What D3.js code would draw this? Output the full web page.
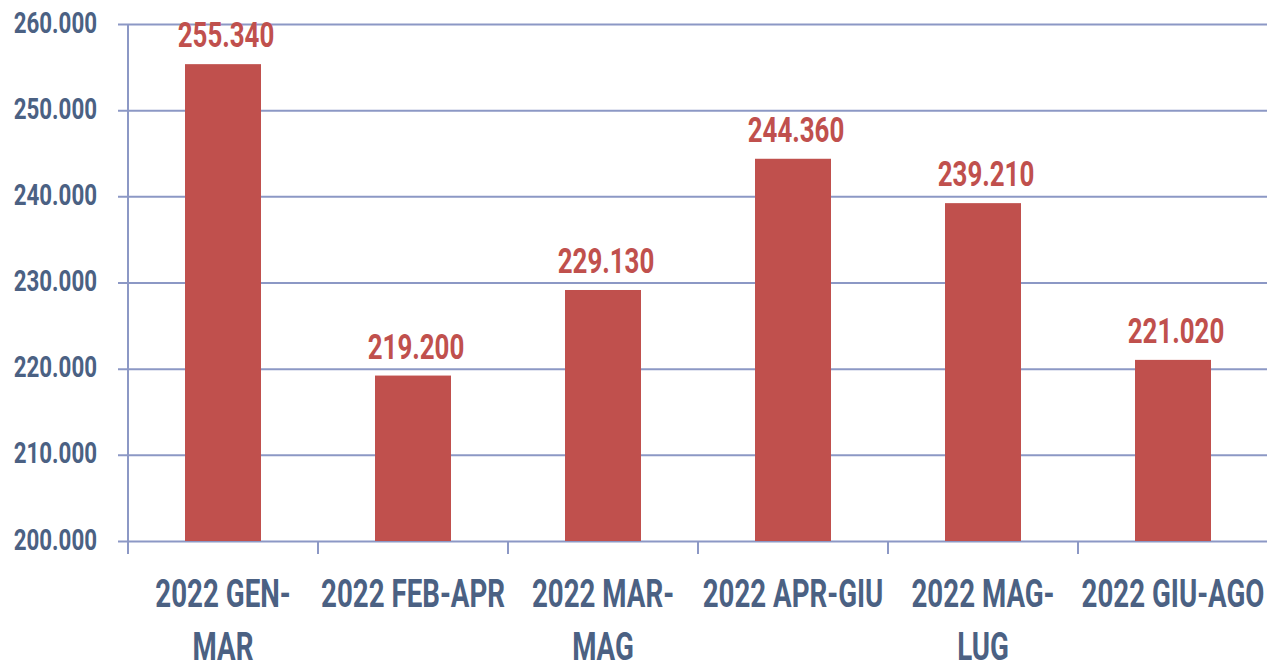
<!DOCTYPE html>
<html>
<head>
<meta charset="utf-8">
<script src="https://cdn.jsdelivr.net/npm/d3@7"></script>
<style>
  body { margin: 0; background: #fff; }
  svg { display: block; }
  text { font-family: Roboto, "Noto Sans", sans-serif; font-weight: bold; }
</style>
</head>
<body>
<div class="chart"></div>
<script>
// data
const categories = ["2022 GEN-MAR", "2022 FEB-APR", "2022 MAR-MAG", "2022 APR-GIU", "2022 MAG-LUG", "2022 GIU-AGO"];
const tickLabels = [["2022 GEN-", "MAR"], ["2022 FEB-APR"], ["2022 MAR-", "MAG"], ["2022 APR-GIU"], ["2022 MAG-", "LUG"], ["2022 GIU-AGO"]];
const values = [255340, 219200, 229130, 244360, 239210, 221020];
const yTicks = [200000, 210000, 220000, 230000, 240000, 250000, 260000];

const width = 1267;
const height = 669;
const margin = {top: 24, right: -1, bottom: 128, left: 128};

// condensed look: squeeze the glyphs horizontally
const sx = 0.74;
const sxCat = 0.71;

const it = d3.formatLocale({decimal: ",", thousands: ".", grouping: [3]});
const fmt = it.format(",.0f");

const gridColor = "#8c98c5";
const textColor = "#4b6183";
const barColor = "#c0504d";

const svg = d3.select('.chart').append('svg')
    .attr('width', width)
    .attr('height', height);

const x = d3.scaleBand()
    .domain(categories)
    .range([margin.left, width - margin.right])
    .paddingInner(0.6)
    .paddingOuter(0.3);

const y = d3.scaleLinear()
    .domain([200000, 260000])
    .range([height - margin.bottom, margin.top]);

// gridlines + y labels
const yAxis = svg.append('g')
    .attr('transform', `translate(${margin.left},0)`)
    .call(d3.axisLeft(y).tickValues(yTicks).tickFormat(fmt)
        .tickSize(-(width - margin.left)).tickPadding(0));
yAxis.select('.domain').remove();
yAxis.selectAll('.tick line')
    .attr('x1', -10)
    .attr('stroke', gridColor)
    .attr('stroke-width', 2);
yAxis.selectAll('.tick text')
    .attr('fill', textColor)
    .attr('font-size', 29)
    .attr('font-family', null)
    .attr('x', 0)
    .attr('dy', '0.28em')
    .attr('transform', `translate(-31,0) scale(0.77,1)`);

// y axis line
svg.append('line')
    .attr('x1', margin.left).attr('x2', margin.left)
    .attr('y1', y(260000)).attr('y2', y(200000) + 13)
    .attr('stroke', gridColor)
    .attr('stroke-width', 2);

// band boundary ticks
const step = x.step();
svg.append('g').selectAll('line')
    .data(categories)
    .enter()
    .append('line')
    .attr('x1', d => x(d) - x.paddingOuter() * step + step)
    .attr('x2', d => x(d) - x.paddingOuter() * step + step)
    .attr('y1', y(200000))
    .attr('y2', y(200000) + 13)
    .attr('stroke', gridColor)
    .attr('stroke-width', 2);

// bars
svg.append('g').selectAll('rect')
    .data(values)
    .enter()
    .append('rect')
    .attr('x', (d, i) => x(categories[i]))
    .attr('width', x.bandwidth())
    .attr('y', d => y(d))
    .attr('height', d => y(200000) - y(d))
    .attr('fill', barColor);

// value labels
svg.append('g').selectAll('text')
    .data(values)
    .enter()
    .append('text')
    .attr('transform', (d, i) => `translate(${x(categories[i]) + x.bandwidth() / 2 + 3},${y(d) - 17}) scale(${sx},1)`)
    .attr('text-anchor', 'middle')
    .attr('font-size', 35)
    .attr('fill', barColor)
    .text(d => fmt(d));

// category labels
const cat = svg.append('g').selectAll('text')
    .data(tickLabels)
    .enter()
    .append('text')
    .attr('transform', (d, i) => `translate(${x(categories[i]) + x.bandwidth() / 2},607) scale(${sxCat},1)`)
    .attr('text-anchor', 'middle')
    .attr('font-size', 39)
    .attr('fill', textColor);
cat.selectAll('tspan')
    .data(d => d)
    .enter()
    .append('tspan')
    .attr('x', 0)
    .attr('dy', (d, i) => i === 0 ? 0 : 53)
    .text(d => d);
</script>
</body>
</html>
